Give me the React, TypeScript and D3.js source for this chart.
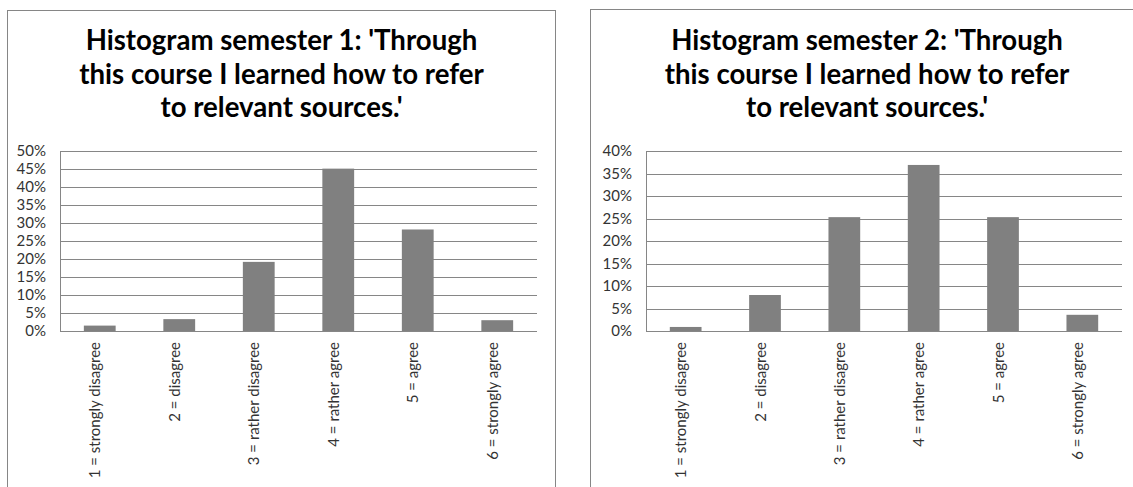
import React from 'react';
import * as d3 from 'd3';

const categories = [
  '1 = strongly disagree',
  '2 = disagree',
  '3 = rather disagree',
  '4 = rather agree',
  '5 = agree',
  '6 = strongly agree',
];
const semester1Values = [0.015, 0.033, 0.192, 0.451, 0.282, 0.03];
const semester2Values = [0.009, 0.08, 0.253, 0.369, 0.253, 0.036];
const semester1Ticks = [0, 0.05, 0.1, 0.15, 0.2, 0.25, 0.3, 0.35, 0.4, 0.45, 0.5];
const semester2Ticks = [0, 0.05, 0.1, 0.15, 0.2, 0.25, 0.3, 0.35, 0.4];
const semester1Title = ["Histogram semester 1: 'Through", 'this course I learned how to refer', "to relevant sources.'"];
const semester2Title = ["Histogram semester 2: 'Through", 'this course I learned how to refer', "to relevant sources.'"];

const FONT = "Lato, 'Open Sans', 'DejaVu Sans', sans-serif";

type PanelProps = {
  values: number[];
  ticks: number[];
  title: string[];
  boxX: number;
  boxY: number;
  boxW: number;
  plotL: number;
  plotR: number;
  plotT: number;
  plotB: number;
};

function Panel({ values, ticks, title, boxX, boxY, boxW, plotL, plotR, plotT, plotB }: PanelProps) {
  const x = d3.scaleBand<string>().domain(categories).range([plotL, plotR]).paddingInner(0.6).paddingOuter(0.3);
  const yMax = ticks[ticks.length - 1];
  const y = d3.scaleLinear().domain([0, yMax]).range([plotB, plotT]);
  const cx = boxX + boxW / 2;
  const fmt = d3.format('.0%');
  return (
    <g>
      <rect x={boxX} y={boxY} width={boxW} height={520} fill="#fff" stroke="#868686" strokeWidth={1} />
      {title.map((line, i) => (
        <text key={i} x={cx} y={50 + i * 33.5} textAnchor="middle" fontFamily={FONT} fontWeight={700} fontSize={27.6} fill="#000">
          {line}
        </text>
      ))}
      {ticks.map((t) => (
        <line key={'g' + t} x1={plotL} x2={plotR} y1={Math.round(y(t)) + 0.5} y2={Math.round(y(t)) + 0.5} stroke="#868686" strokeWidth={1} />
      ))}
      <line x1={plotL + 0.5} x2={plotL + 0.5} y1={plotT} y2={plotB} stroke="#868686" strokeWidth={1} />
      {ticks.map((t) => (
        <text key={'t' + t} x={plotL - 14} y={y(t)} dy="0.35em" textAnchor="end" fontFamily={FONT} fontSize={15} fill="#333">
          {fmt(t)}
        </text>
      ))}
      {categories.map((c, i) => (
        <rect key={c} x={x(c)} y={y(values[i])} width={x.bandwidth()} height={y(0) - y(values[i])} fill="#808080" />
      ))}
      {categories.map((c) => {
        const mx = (x(c) as number) + x.bandwidth() / 2;
        return (
          <text key={'c' + c} transform={`translate(${mx + 0.5},${plotB + 11}) rotate(-90)`} textAnchor="end" fontFamily={FONT} fontSize={15} fill="#333">
            {c}
          </text>
        );
      })}
    </g>
  );
}

export default function App() {
  return (
    <svg width={1133} height={487} style={{ position: 'absolute', left: 0, top: 0, display: 'block' }}>
      <rect x={0} y={0} width={1133} height={487} fill="#fff" />
      <Panel values={semester1Values} ticks={semester1Ticks} title={semester1Title} boxX={7.5} boxY={10.5} boxW={548} plotL={60} plotR={537} plotT={151} plotB={331} />
      <Panel values={semester2Values} ticks={semester2Ticks} title={semester2Title} boxX={590.5} boxY={9.5} boxW={553} plotL={646} plotR={1122} plotT={151} plotB={331} />
    </svg>
  );
}
